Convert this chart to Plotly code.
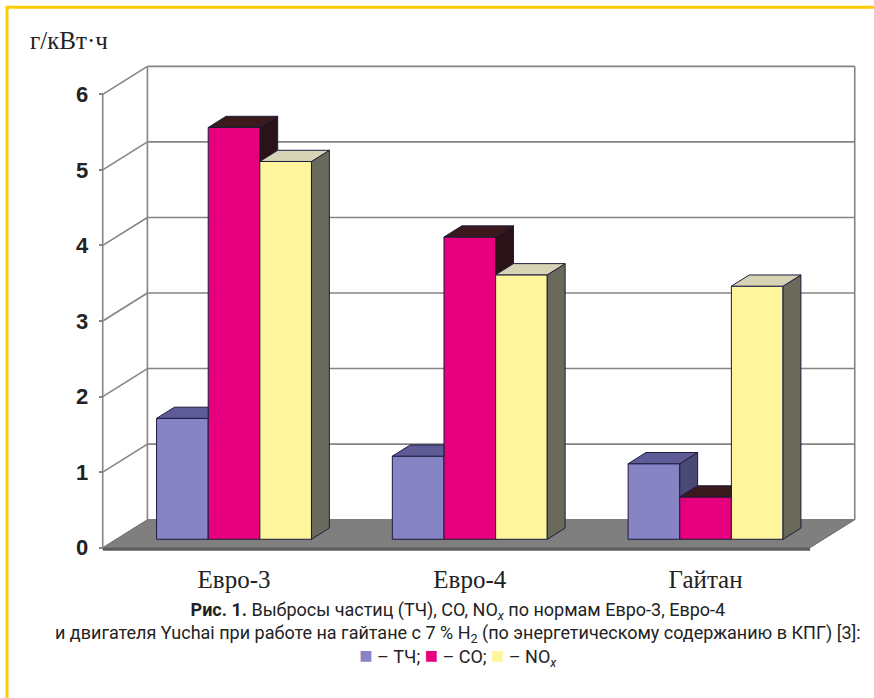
import plotly.graph_objects as go

# ---- data ----
categories = ["Евро-3", "Евро-4", "Гайтан"]
pm_values = [1.6, 1.1, 1.0]      # ТЧ
co_values = [5.45, 4.0, 0.56]    # CO
nox_values = [5.0, 3.5, 3.35]    # NOx
y_ticks = [0, 1, 2, 3, 4, 5, 6]
unit_label = "г/кВт·ч"

# ---- page / scale geometry (pixels) ----
W, H = 874, 698
X_RANGE = [-0.52, 2.75]
Y_RANGE = [-0.15, 6.6]
PX_X = 235.77          # pixels per category unit
PX_Y = 75.6            # pixels per g/kWh
FRONT_X_PX = 102.7     # pixel column of the front value axis (x = -0.5)
ZERO_Y_PX = 547.7      # pixel row of value 0 on the front plane

L = FRONT_X_PX - (-0.5 - X_RANGE[0]) * PX_X
R = W - (L + (X_RANGE[1] - X_RANGE[0]) * PX_X)
T = ZERO_Y_PX - Y_RANGE[1] * PX_Y
B = H - (ZERO_Y_PX - Y_RANGE[0] * PX_Y)
PLOT_W = W - L - R
PLOT_H = H - T - B


def paper_x(px):
    return (px - L) / PLOT_W


def paper_y(py):
    return (H - B - py) / PLOT_H


# ---- oblique 3-D projection in data units ----
DX = 44.7 / PX_X       # horizontal shift of the full chart depth
DY = 28.0 / PX_Y       # vertical shift of the full chart depth
F0, F1 = 0.30, 0.70    # depth slot occupied by the columns
BW = 0.219             # column width (category units)
XS = F0 * DX           # front face offset of the columns
BASE = F0 * DY
dD = (F1 - F0) * DX
dH = (F1 - F0) * DY

GRID = "#858585"
EDGE = "#1c1c3c"

series = [
    dict(name="ТЧ", vals=pm_values, front="#8784C6", top="#5E5B96", side="#4A4874"),
    dict(name="CO", vals=co_values, front="#E6007E", top="#3B1A1E", side="#2A1216"),
    dict(name="NOx", vals=nox_values, front="#FFF59D", top="#D6D4B5", side="#6A6A5C"),
]

fig = go.Figure()

# front faces of the columns
for i, s in enumerate(series):
    fig.add_trace(go.Bar(
        x=[k + XS + (i - 1) * BW for k in range(len(categories))],
        y=s["vals"],
        base=BASE,
        width=BW,
        name=s["name"],
        marker=dict(color=s["front"], line=dict(color=EDGE, width=1)),
        showlegend=False,
        hoverinfo="skip",
    ))


def face(xs, ys, color):
    fig.add_trace(go.Scatter(
        x=xs + [xs[0]], y=ys + [ys[0]], mode="lines", fill="toself",
        fillcolor=color, line=dict(color=EDGE, width=1),
        showlegend=False, hoverinfo="skip",
    ))


# top and right-hand faces, clipped where the neighbouring column hides them
for k in range(len(categories)):
    for i, s in enumerate(series):
        a = k + XS + (i - 1.5) * BW
        b = a + BW
        top = BASE + s["vals"][k]
        nxt = BASE + series[i + 1]["vals"][k] if i < len(series) - 1 else None
        lo = BASE if nxt is None else min(max(BASE, nxt), top)
        if top > lo:
            face([b, b, b + dD, b + dD], [lo, top, top + dH, lo + dH], s["side"])
        if nxt is not None and nxt > top:
            face([a, b, b, a + dD], [top, top, top + dH, top + dH], s["top"])
        else:
            face([a, b, b + dD, a + dD], [top, top, top + dH, top + dH], s["top"])

shapes = []
x_left, x_right = -0.5, len(categories) - 0.5

# floor slab
shapes.append(dict(type="path", xref="x", yref="y", layer="below",
                   path=f"M{x_left},-0.04 L{x_right},-0.04 L{x_right},0 L{x_left},0 Z",
                   fillcolor="#5c5c5c", line=dict(width=0)))
shapes.append(dict(type="path", xref="x", yref="y", layer="below",
                   path=f"M{x_left},0 L{x_right},0 L{x_right + DX},{DY} L{x_left + DX},{DY} Z",
                   fillcolor="#7f7f7f", line=dict(color="#6a6a6a", width=1)))

# back-wall gridlines and side-wall connectors
for v in y_ticks:
    if v > 0:
        shapes.append(dict(type="line", xref="x", yref="y", layer="below",
                           x0=x_left + DX, y0=v + DY, x1=x_right + DX, y1=v + DY,
                           line=dict(color=GRID, width=1.6)))
        shapes.append(dict(type="line", xref="x", yref="y", layer="below",
                           x0=x_left, y0=v, x1=x_left + DX, y1=v + DY,
                           line=dict(color=GRID, width=1.6)))
# wall edges and front axis
for (x0, y0, x1, y1) in [
    (x_left + DX, DY, x_left + DX, 6 + DY),
    (x_right + DX, DY, x_right + DX, 6 + DY),
    (x_left, 0, x_left, 6),
]:
    shapes.append(dict(type="line", xref="x", yref="y", layer="below",
                       x0=x0, y0=y0, x1=x1, y1=y1, line=dict(color=GRID, width=1.6)))

# yellow page frame
shapes.append(dict(type="rect", xref="paper", yref="paper", layer="above",
                   x0=paper_x(7), y0=paper_y(7), x1=paper_x(W + 20), y1=paper_y(H + 20),
                   line=dict(color="#FFCC00", width=3), fillcolor="rgba(0,0,0,0)"))

NARROW = "Liberation Sans Narrow, Arial Narrow, Roboto, sans-serif"


def swatch(color):
    return f"<span style='color:{color};font-size:22px'>■</span>"


caption = (
    "<b>Рис. 1.</b> Выбросы частиц (ТЧ), CO, NO<sub><i>x</i></sub> по нормам Евро-3, Евро-4<br>"
    "и двигателя Yuchai при работе на гайтане с 7 % H<sub>2</sub> "
    "(по энергетическому содержанию в КПГ) [3]:<br>"
    f"{swatch(series[0]['front'])} – ТЧ; {swatch(series[1]['front'])} – CO; "
    f"{swatch(series[2]['front'])} – NO<sub><i>x</i></sub>"
)

annotations = [
    dict(text=unit_label, xref="paper", yref="paper",
         x=paper_x(69), y=paper_y(40), xanchor="center", yanchor="middle",
         showarrow=False, font=dict(family="Liberation Serif, Times New Roman, serif",
                                    size=25, color="#222222")),
    dict(text=caption, xref="paper", yref="paper", x=paper_x(458), y=paper_y(635),
         xanchor="center", yanchor="middle", align="center", showarrow=False,
         font=dict(family=NARROW, size=18, color="#222222")),
]

fig.update_layout(
    width=W, height=H,
    margin=dict(l=L, r=R, t=T, b=B, pad=0),
    paper_bgcolor="white", plot_bgcolor="white",
    barmode="overlay",
    shapes=shapes,
    annotations=annotations,
    xaxis=dict(range=X_RANGE, showgrid=False, zeroline=False, showline=False,
               tickmode="array",
               tickvals=[k + XS for k in range(len(categories))],
               ticktext=categories, ticks="",
               tickfont=dict(family="Liberation Serif, Times New Roman, serif",
                             size=25, color="#222222"),
               ticklabelstandoff=3, fixedrange=True),
    yaxis=dict(range=Y_RANGE, anchor="free", position=paper_x(FRONT_X_PX),
               showgrid=False, zeroline=False, showline=False,
               tickmode="array", tickvals=y_ticks,
               ticks="outside", ticklen=4, tickwidth=1.5, tickcolor=GRID,
               tickfont=dict(family="Liberation Sans, Arial, sans-serif",
                             size=22, color="#222222", weight="bold"),
               ticklabelstandoff=6, fixedrange=True),
)

fig.write_html("out.html")
